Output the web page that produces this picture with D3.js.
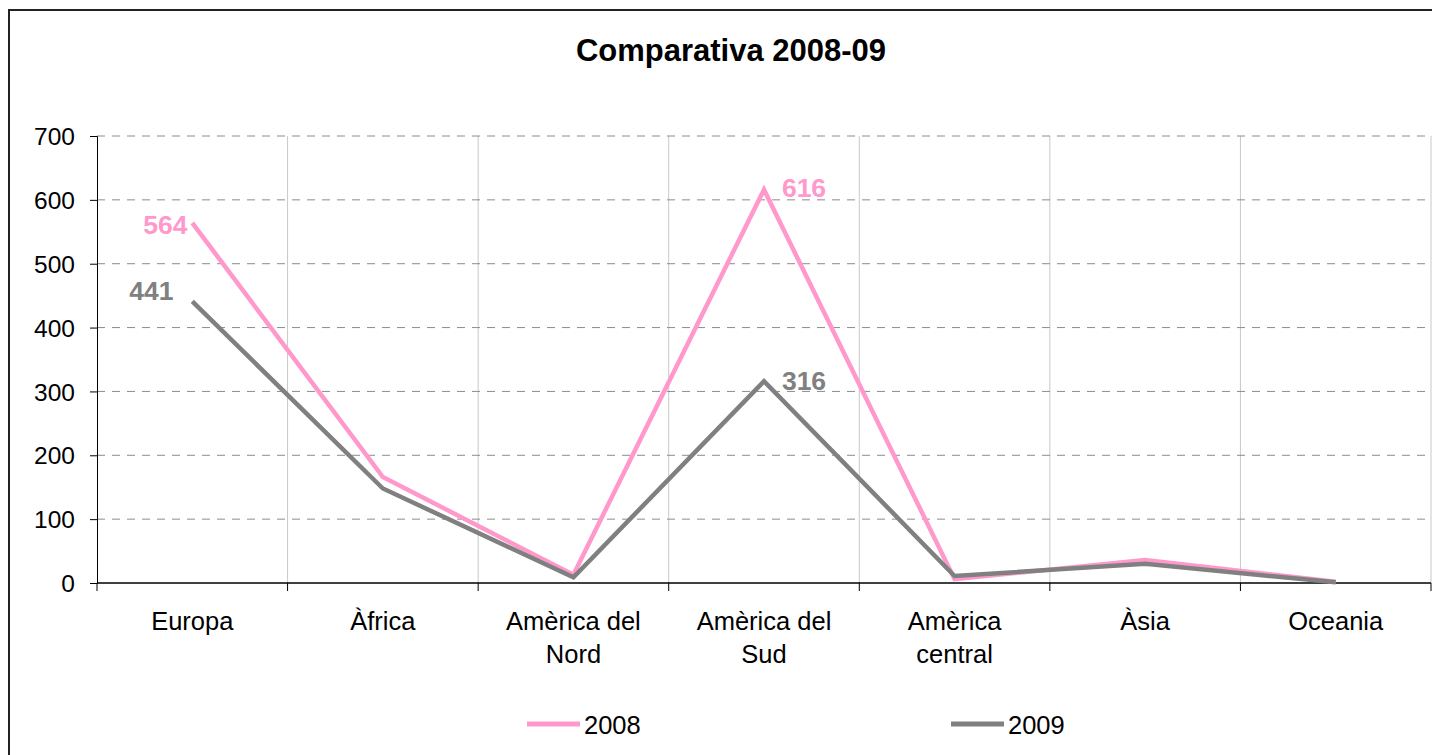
<html>
<head>
<meta charset="UTF-8" />
<script src="https://d3js.org/d3.v7.min.js"></script>
<style>
  body { margin: 0; background: #fff; }
  svg { font-family: Arial, "Liberation Sans", sans-serif; }
</style>
</head>
<body>
<div id="chart"></div>
<script>
var categories = [["Europa"], ["Àfrica"], ["Amèrica del", "Nord"], ["Amèrica del", "Sud"], ["Amèrica", "central"], ["Àsia"], ["Oceania"]]
var years = ["2008", "2009"]
var values2008 = [564, 166, 13, 616, 6, 36, 2]
var values2009 = [441, 148, 9, 316, 11, 30, 1]
var yTicks = [0, 100, 200, 300, 400, 500, 600, 700]
var colors = ["#FF99CC", "#808080"]

var W = 1432, H = 755
var margin = {top: 136, left: 97, right: 1, bottom: 172}
var width = W - margin.left - margin.right
var height = H - margin.top - margin.bottom

var svg = d3.select("#chart").append("svg")
  .attr("width", W).attr("height", H)

// chart frame
svg.append("rect")
  .attr("x", 9).attr("y", 10)
  .attr("width", W + 20).attr("height", H + 20)
  .attr("fill", "none").attr("stroke", "#222").attr("stroke-width", 2)

svg.append("text")
  .attr("x", 731).attr("y", 61)
  .attr("text-anchor", "middle")
  .style("font-size", "31px").style("font-weight", "bold")
  .text("Comparativa 2008-09")

var g = svg.append("g").attr("transform", "translate(" + margin.left + "," + margin.top + ")")

var x = d3.scaleBand()
  .domain(d3.range(categories.length))
  .range([0, width])

var y = d3.scaleLinear().domain([0, 700]).range([height, 0])

// vertical grid at category boundaries
g.selectAll(".vgrid")
  .data(d3.range(1, categories.length))
  .enter().append("line")
  .attr("x1", function(d) { return x(d) }).attr("x2", function(d) { return x(d) })
  .attr("y1", 0).attr("y2", height)
  .attr("stroke", "#c8c8c8").attr("stroke-width", 1)

g.append("line")
  .attr("x1", width).attr("x2", width)
  .attr("y1", 0).attr("y2", height)
  .attr("stroke", "#c8c8c8")

// horizontal dashed grid
g.selectAll(".hgrid")
  .data(yTicks.filter(function(d) { return d > 0 }))
  .enter().append("line")
  .attr("x1", 0).attr("x2", width)
  .attr("y1", function(d) { return y(d) }).attr("y2", function(d) { return y(d) })
  .attr("stroke", "#8c8c8c").attr("stroke-dasharray", "8,7")

// y axis
var yAxis = g.append("g")
  .call(d3.axisLeft(y).tickValues(yTicks).tickSize(7).tickPadding(15))
yAxis.select(".domain").attr("stroke", "#000")
yAxis.selectAll("text").style("font-size", "24.5px").attr("fill", "#000").attr("dy", "0.35em")

// x axis
g.append("line")
  .attr("x1", 0).attr("x2", width)
  .attr("y1", height).attr("y2", height)
  .attr("stroke", "#000").attr("stroke-width", 1.5)
g.selectAll(".xtick")
  .data(d3.range(0, categories.length + 1))
  .enter().append("line")
  .attr("x1", function(d) { return d < categories.length ? x(d) : width })
  .attr("x2", function(d) { return d < categories.length ? x(d) : width })
  .attr("y1", height).attr("y2", height + 8)
  .attr("stroke", "#000")

var labels = g.selectAll(".xlabel")
  .data(categories)
  .enter().append("text")
  .attr("text-anchor", "middle")
  .attr("transform", function(d, i) { return "translate(" + (x(i) + x.bandwidth() / 2) + "," + (height + 47) + ")" })
  .style("font-size", "25.5px")
labels.selectAll("tspan")
  .data(function(d) { return d })
  .enter().append("tspan")
  .attr("x", 0).attr("dy", function(d, i) { return i === 0 ? 0 : 33 })
  .text(function(d) { return d })

var line = d3.line()
  .x(function(d, i) { return x(i) + x.bandwidth() / 2 })
  .y(function(d) { return y(d) })

var series = [values2008, values2009]
series.forEach(function(vals, idx) {
  g.append("path")
    .datum(vals)
    .attr("d", line)
    .attr("fill", "none")
    .attr("stroke", colors[idx])
    .attr("stroke-width", 4.5)
    .attr("stroke-linejoin", "miter")
})

// data labels for Europa and America del Sud
var dataLabels = [
  {s: 0, i: 0, dx: -27, dy: 2},
  {s: 1, i: 0, dx: -41, dy: -11},
  {s: 0, i: 3, dx: 40, dy: -2},
  {s: 1, i: 3, dx: 40, dy: 0}
]
g.selectAll(".dlabel")
  .data(dataLabels)
  .enter().append("text")
  .attr("x", function(d) { return x(d.i) + x.bandwidth() / 2 + d.dx })
  .attr("y", function(d) { return y(series[d.s][d.i]) + d.dy })
  .attr("text-anchor", "middle")
  .attr("dy", "0.35em")
  .style("font-size", "26.5px").style("font-weight", "bold")
  .attr("fill", function(d) { return colors[d.s] })
  .text(function(d) { return series[d.s][d.i] })

// legend
var legendX = [527, 951]
years.forEach(function(yr, i) {
  svg.append("line")
    .attr("x1", legendX[i]).attr("x2", legendX[i] + 53)
    .attr("y1", 724).attr("y2", 724)
    .attr("stroke", colors[i]).attr("stroke-width", 5)
  svg.append("text")
    .attr("x", legendX[i] + 57).attr("y", 734)
    .style("font-size", "25.5px")
    .text(yr)
})
</script>
</body>
</html>
